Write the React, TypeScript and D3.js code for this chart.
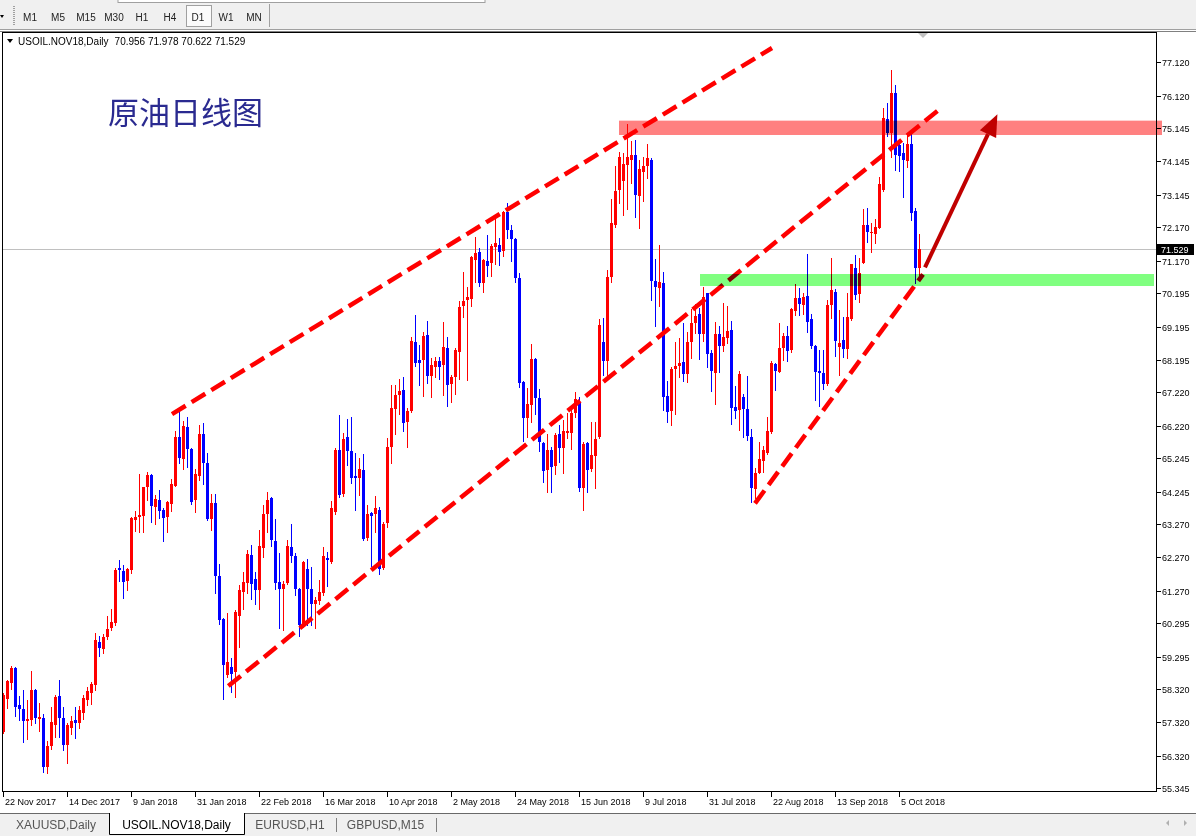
import { useEffect } from "react";
import * as d3 from "d3";

// USOIL.NOV18 daily bars, 22 Nov 2017 .. 12 Oct 2018 : [open, high, low, close]
const candles: [number, number, number, number][] = [
  [57.04, 58.19, 56.99, 58.14], [58.01, 58.58, 57.74, 58.56], [58.49, 59.01, 58.33, 58.96], [58.96, 58.99, 57.52, 57.79],
  [57.84, 58.11, 57.39, 57.71], [57.72, 58.29, 56.74, 57.37], [57.37, 57.99, 56.82, 57.42], [57.39, 58.87, 57.24, 58.29],
  [58.29, 58.33, 57.31, 57.44], [57.42, 57.89, 57.07, 57.47], [57.44, 57.57, 55.84, 55.97], [55.99, 56.77, 55.79, 56.61],
  [56.62, 57.78, 56.53, 57.33], [57.24, 58.13, 56.89, 58.09], [58.11, 58.59, 56.87, 57.46], [57.46, 57.78, 56.49, 56.64],
  [56.64, 57.31, 56.09, 57.24], [57.15, 57.51, 56.96, 57.36], [57.39, 57.78, 56.86, 57.31], [57.31, 57.81, 57.14, 57.69],
  [57.61, 58.13, 57.41, 58.06], [58.0, 58.37, 57.84, 58.26], [58.19, 58.53, 57.86, 58.48], [58.44, 59.99, 58.29, 59.79],
  [59.72, 59.91, 59.32, 59.56], [59.51, 59.96, 59.41, 59.88], [59.88, 60.51, 59.81, 60.11], [60.15, 60.71, 60.09, 60.33],
  [60.31, 61.94, 60.23, 61.89], [61.94, 62.19, 61.56, 61.89], [61.86, 62.04, 61.06, 61.54], [61.57, 61.94, 61.3, 61.91],
  [61.89, 63.48, 61.79, 63.46], [63.39, 63.66, 63.07, 63.49], [63.47, 64.77, 63.04, 63.54], [63.51, 64.39, 63.04, 64.37],
  [64.37, 64.84, 63.99, 64.74], [64.74, 64.76, 63.34, 63.82], [63.79, 64.14, 63.26, 64.02], [63.99, 64.29, 63.44, 63.67],
  [63.69, 63.74, 62.77, 63.46], [63.47, 63.95, 63.04, 63.93], [63.86, 64.61, 63.67, 64.47], [64.42, 66.06, 64.4, 65.88],
  [65.88, 66.62, 65.09, 65.24], [65.23, 66.36, 64.91, 66.21], [66.17, 66.47, 64.99, 65.51], [65.52, 65.54, 63.88, 63.94],
  [63.99, 64.91, 63.64, 64.77], [64.72, 66.24, 64.59, 65.97], [65.97, 66.29, 64.46, 65.09], [65.09, 65.39, 63.39, 63.42],
  [63.41, 64.16, 63.09, 63.89], [63.89, 64.16, 61.21, 61.72], [61.71, 62.07, 60.26, 60.39], [60.41, 60.44, 58.03, 59.04],
  [58.74, 60.59, 58.69, 59.13], [58.97, 59.24, 58.22, 58.77], [58.84, 60.69, 58.07, 60.64], [60.52, 61.44, 59.57, 61.29],
  [61.24, 61.84, 60.72, 61.52], [61.49, 62.49, 61.19, 62.37], [62.34, 62.64, 61.01, 61.47], [61.61, 61.84, 60.87, 61.29],
  [61.29, 63.09, 60.72, 62.61], [62.56, 63.84, 62.29, 63.56], [63.56, 64.22, 63.04, 63.99], [64.06, 64.09, 62.62, 62.79],
  [62.76, 63.42, 61.32, 61.51], [61.53, 62.39, 60.16, 61.32], [61.32, 61.57, 60.09, 61.47], [61.49, 62.79, 61.46, 62.62],
  [62.59, 63.27, 62.14, 62.32], [62.32, 62.39, 61.14, 61.32], [61.32, 61.34, 59.92, 60.24], [60.21, 62.16, 60.17, 62.14],
  [61.92, 62.22, 60.24, 61.32], [61.32, 61.99, 60.24, 60.87], [60.87, 61.09, 60.16, 60.99], [60.97, 61.59, 60.87, 61.24],
  [61.21, 62.57, 61.14, 62.31], [62.26, 62.42, 61.42, 62.19], [62.14, 63.96, 62.11, 63.76], [63.64, 65.56, 63.57, 65.49],
  [65.49, 66.54, 64.09, 64.14], [64.16, 66.01, 64.11, 65.82], [65.89, 66.41, 65.04, 65.47], [65.47, 66.49, 64.51, 64.64],
  [64.71, 65.41, 63.69, 64.64], [64.66, 65.24, 64.14, 64.92], [64.89, 65.37, 62.79, 62.82], [62.86, 63.84, 62.79, 63.56],
  [63.59, 63.64, 62.02, 63.52], [63.56, 64.11, 63.04, 63.76], [63.69, 63.79, 61.77, 61.91], [61.94, 63.34, 61.92, 63.27],
  [63.29, 65.86, 63.17, 65.59], [65.57, 67.44, 65.11, 66.74], [66.72, 67.44, 65.97, 67.14], [67.14, 67.61, 66.57, 67.26],
  [67.29, 67.67, 66.07, 66.29], [66.34, 66.74, 65.57, 66.67], [66.67, 68.89, 66.64, 68.76], [68.72, 69.54, 68.01, 68.11],
  [68.19, 68.64, 67.44, 68.09], [68.19, 69.04, 67.11, 68.92], [68.94, 69.36, 67.51, 67.72], [67.72, 68.24, 67.09, 68.04],
  [67.99, 68.29, 67.67, 68.16], [68.16, 68.29, 67.63, 67.97], [68.04, 69.34, 67.14, 68.59], [68.56, 68.89, 66.82, 67.44],
  [67.47, 67.74, 66.92, 67.67], [67.67, 68.56, 67.17, 68.49], [68.44, 69.96, 67.61, 69.79], [69.81, 70.84, 69.49, 69.96],
  [69.99, 70.39, 67.59, 70.09], [70.02, 71.31, 69.82, 71.29], [71.19, 71.89, 70.52, 71.41], [71.44, 71.54, 70.41, 70.51],
  [70.51, 71.21, 70.22, 71.19], [71.17, 71.94, 70.71, 71.02], [71.11, 71.67, 70.72, 71.62], [71.59, 72.49, 71.07, 71.71],
  [71.64, 71.86, 71.04, 71.44], [71.47, 72.66, 71.31, 72.64], [72.64, 72.91, 71.84, 72.09], [72.09, 72.24, 71.17, 71.81],
  [71.81, 71.84, 70.52, 70.64], [70.64, 70.81, 67.39, 67.49], [67.54, 67.57, 65.77, 66.46], [66.46, 67.34, 65.89, 66.86],
  [66.84, 68.67, 66.34, 68.22], [68.22, 68.24, 66.56, 67.06], [67.04, 67.32, 65.47, 65.74], [65.69, 65.72, 64.54, 64.87],
  [64.89, 65.97, 64.22, 65.49], [65.49, 65.59, 64.24, 64.99], [65.02, 66.01, 64.77, 65.94], [65.97, 66.24, 65.14, 65.56],
  [65.54, 66.39, 64.81, 66.07], [66.01, 66.59, 65.84, 66.07], [65.99, 66.72, 65.51, 66.61], [66.59, 67.22, 66.49, 67.02],
  [66.89, 67.09, 64.27, 64.34], [64.34, 65.74, 63.69, 65.67], [65.69, 65.72, 64.22, 64.89], [64.91, 66.34, 64.87, 65.34],
  [65.32, 66.34, 64.34, 65.82], [65.87, 69.41, 65.84, 69.24], [68.74, 69.44, 67.74, 68.17], [68.17, 70.89, 67.72, 70.67],
  [70.67, 73.01, 70.54, 72.29], [72.24, 74.01, 72.19, 73.26], [73.29, 74.44, 72.91, 74.29], [73.57, 74.39, 72.54, 74.06],
  [74.04, 75.27, 72.71, 74.27], [74.19, 74.77, 73.49, 74.34], [74.34, 74.79, 72.49, 73.14], [73.11, 74.19, 72.14, 73.91],
  [73.84, 74.29, 72.97, 74.01], [74.01, 74.67, 73.64, 74.24], [74.19, 74.24, 69.99, 70.57], [70.57, 71.21, 69.22, 70.37],
  [70.34, 71.64, 69.81, 70.52], [70.49, 70.84, 66.69, 67.07], [67.11, 67.57, 66.34, 66.64], [66.67, 67.97, 66.24, 67.92],
  [67.91, 68.74, 66.57, 68.01], [68.01, 68.84, 67.69, 68.09], [68.14, 69.29, 67.57, 67.77], [67.77, 69.04, 67.54, 68.72],
  [68.72, 69.71, 68.24, 69.29], [69.31, 69.87, 69.01, 69.51], [69.57, 69.74, 68.22, 68.97], [68.97, 70.39, 68.77, 70.07],
  [70.19, 70.21, 67.99, 68.36], [68.41, 68.49, 67.27, 67.86], [67.81, 69.34, 66.87, 68.97], [68.97, 69.21, 67.84, 68.62],
  [68.62, 69.91, 68.47, 68.87], [68.86, 69.81, 68.69, 69.07], [69.09, 69.37, 66.27, 66.74], [66.79, 67.41, 66.44, 66.67],
  [66.69, 67.86, 66.09, 67.77], [67.09, 67.17, 65.89, 66.72], [66.72, 67.71, 65.79, 65.92], [65.89, 66.11, 63.94, 64.34],
  [64.31, 64.94, 64.04, 64.81], [64.81, 65.74, 64.79, 65.22], [65.17, 65.61, 64.84, 65.49], [65.41, 66.49, 65.37, 66.06],
  [66.02, 68.16, 65.99, 68.11], [68.07, 68.11, 67.29, 67.87], [67.84, 69.31, 67.82, 68.56], [68.54, 69.01, 68.19, 68.92],
  [68.91, 69.21, 68.17, 68.47], [68.49, 69.74, 68.44, 69.72], [69.67, 70.47, 69.54, 70.06], [70.06, 70.36, 69.54, 69.87],
  [69.84, 70.21, 69.57, 70.09], [70.11, 71.37, 69.04, 69.34], [69.42, 69.56, 68.54, 68.61], [68.61, 68.64, 66.99, 67.84],
  [67.86, 68.49, 66.82, 67.79], [67.81, 68.49, 67.31, 67.47], [67.47, 69.99, 67.44, 69.84], [69.84, 71.26, 69.44, 70.29],
  [70.24, 70.31, 68.31, 68.77], [68.59, 69.69, 67.74, 68.71], [68.79, 69.49, 68.27, 68.51], [68.51, 70.19, 68.24, 69.49],
  [69.42, 71.07, 69.39, 71.06], [70.94, 71.34, 70.02, 70.14], [70.17, 71.26, 69.94, 70.79], [71.11, 72.71, 71.09, 72.24],
  [72.24, 72.74, 71.74, 72.04], [72.01, 72.31, 71.44, 72.04], [71.97, 72.41, 71.71, 72.17], [72.16, 73.69, 72.14, 73.47],
  [73.29, 75.74, 73.27, 75.44], [75.41, 75.91, 74.91, 75.01], [75.01, 76.89, 74.29, 76.21], [76.19, 76.44, 73.89, 74.34],
  [74.64, 74.66, 73.87, 74.31], [74.39, 74.69, 73.07, 74.19], [74.17, 75.01, 73.99, 74.67], [74.67, 75.01, 72.39, 72.61],
  [72.67, 72.74, 70.49, 70.94], [70.956, 71.978, 70.622, 71.529],
];

const priceTicks = [
  "77.120", "76.120", "75.145", "74.145", "73.145", "72.170", "71.170", "70.195", "69.195", "68.195", "67.220", "66.220",
  "65.245", "64.245", "63.270", "62.270", "61.270", "60.295", "59.295", "58.320", "57.320", "56.320", "55.345",
];
const dateTicks = [
  "22 Nov 2017", "14 Dec 2017", "9 Jan 2018", "31 Jan 2018", "22 Feb 2018", "16 Mar 2018", "10 Apr 2018", "2 May 2018",
  "24 May 2018", "15 Jun 2018", "9 Jul 2018", "31 Jul 2018", "22 Aug 2018", "13 Sep 2018", "5 Oct 2018",
];
const barsPerDateTick = 16;
const symbol = "USOIL.NOV18,Daily";
const title = "原油日线图";

// drawn objects as [bar index, price]
const channelLines: [number, number][][] = [
  [[42.25, 66.57], [192.25, 77.55]],
  [[56.33, 58.41], [234, 75.7]],
  [[188, 63.89], [230, 70.76]],
];
const arrowLine: [number, number][] = [[230.5, 70.97], [248.6, 75.56]];
const resistanceZone = { from: 154, to: 289.75, hi: 75.37, lo: 74.94 };
const supportZone = { from: 174.25, to: 287.75, hi: 70.77, lo: 70.41 };

const timeframes = ["M1", "M5", "M15", "M30", "H1", "H4", "D1", "W1", "MN"];
const tabs = ["XAUUSD,Daily", "USOIL.NOV18,Daily", "EURUSD,H1", "GBPUSD,M15"];

const W = 1196;
const H = 836;
const UI = "'Liberation Sans', Arial, sans-serif";

export default function App() {
  useEffect(() => {
    document.body.style.margin = "0";
    document.body.style.overflow = "hidden";
  }, []);

  const x = d3.scaleLinear().domain([0, candles.length - 1]).range([3, 3 + 4 * (candles.length - 1)]);
  const y = d3.scaleLinear().domain([55.345, 77.12]).range([788.3, 62.3]);
  const last = candles[candles.length - 1];
  const line = d3.line<[number, number]>().x((d) => x(d[0])).y((d) => y(d[1]));

  const [a0, a1] = arrowLine;
  const ax0 = x(a0[0]), ay0 = y(a0[1]), ax1 = x(a1[0]), ay1 = y(a1[1]);
  const ang = Math.atan2(ay1 - ay0, ax1 - ax0);
  const headLen = 22, headW = 9;
  const bx = ax1 - headLen * Math.cos(ang), by = ay1 - headLen * Math.sin(ang);
  const head = [
    [ax1, ay1],
    [bx + headW * Math.sin(ang), by - headW * Math.cos(ang)],
    [bx - headW * Math.sin(ang), by + headW * Math.cos(ang)],
  ];

  const tabPos = [[15, 97], [109, 244], [256, 324], [346, 425]];

  return (
    <svg width={W} height={H} style={{ position: "absolute", left: 0, top: 0, display: "block" }} fontFamily={UI}>
      <defs>
        <clipPath id="plot">
          <rect x={3} y={33} width={1153} height={758} />
        </clipPath>
      </defs>
      {/* toolbar */}
      <rect x={0} y={0} width={W} height={H} fill="#f0f0f0" />
      <rect x={118} y={-1} width={367} height={3.5} fill="#fff" stroke="#a0a0a0" />
      <path d="M0,15 L4,15 L2,18 Z" fill="#000" />
      {d3.range(6, 26, 2).map((v) => (
        <rect key={v} x={13} y={v} width={2} height={1} fill="#a0a0a0" />
      ))}
      <rect x={186.5} y={5.5} width={25} height={21} fill="#fbfbfb" stroke="#a0a0a0" />
      <line x1={269.5} x2={269.5} y1={4} y2={27} stroke="#a0a0a0" />
      {timeframes.map((t, k) => (
        <text key={t} x={30 + 28 * k} y={21} fontSize={10} textAnchor="middle" fill="#222">{t}</text>
      ))}
      <line x1={0} x2={W} y1={29.5} y2={29.5} stroke="#a0a0a0" />

      {/* chart window */}
      <rect x={0} y={30} width={W} height={783} fill="#fff" />
      <line x1={0} x2={W} y1={31.5} y2={31.5} stroke="#808080" />
      <line x1={2} x2={1157} y1={32.5} y2={32.5} stroke="#000" />
      <path d="M918,33 L928,33 L923,38 Z" fill="#c0c0c0" />

      <g clipPath="url(#plot)">
        <line x1={3} x2={1156} y1={Math.round(y(last[3])) + 0.5} y2={Math.round(y(last[3])) + 0.5} stroke="#c0c0c0" />
        <g shapeRendering="crispEdges">
          {candles.map(([o, h, l, c], i) => {
            const cx = Math.round(x(i));
            const col = c >= o ? "#ff0000" : "#0000ff";
            const top = Math.round(y(Math.max(o, c)));
            const bot = Math.round(y(Math.min(o, c)));
            return (
              <g key={i} fill={col}>
                <rect x={cx} y={Math.round(y(h))} width={1} height={Math.round(y(l)) - Math.round(y(h)) + 1} />
                <rect x={cx - 1} y={top} width={3} height={Math.max(1, bot - top)} />
              </g>
            );
          })}
        </g>
        {channelLines.map((pts, k) => (
          <path key={k} d={line(pts) || ""} stroke="#ff0000" strokeWidth={4.5} strokeDasharray="16 7" fill="none" />
        ))}
        <line x1={ax0} y1={ay0} x2={bx} y2={by} stroke="#c00000" strokeWidth={4} />
        <path d={"M" + head.map((p) => p.join(",")).join("L") + "Z"} fill="#c00000" />
      </g>
      {[resistanceZone, supportZone].map((z, k) => (
        <rect
          key={k}
          x={x(z.from)}
          width={x(z.to) - x(z.from)}
          y={y(z.hi)}
          height={y(z.lo) - y(z.hi)}
          fill={k === 0 ? "#ff8080" : "#80ff80"}
          style={{ mixBlendMode: "multiply" }}
        />
      ))}

      <text x={108} y={124} fontSize={31} fill="#2a2a90" fontFamily="'Noto Sans CJK SC', sans-serif">{title}</text>
      <path d="M7,39 L13,39 L10,43 Z" fill="#000" />
      <text x={18} y={45} fontSize={10} fill="#000">
        {symbol}
        <tspan dx={6}>{last.map((v) => v.toFixed(3)).join(" ")}</tspan>
      </text>

      {/* frame */}
      <g stroke="#000" shapeRendering="crispEdges">
        <line x1={2.5} x2={2.5} y1={32} y2={792} />
        <line x1={1156.5} x2={1156.5} y1={32} y2={792} />
        <line x1={2} x2={1157} y1={791.5} y2={791.5} />
      </g>

      {/* price axis */}
      {priceTicks.map((t) => {
        const py = Math.round(y(+t)) + 0.5;
        return (
          <g key={t}>
            <line x1={1157} x2={1161} y1={py} y2={py} stroke="#000" />
            <text x={1162} y={py + 3.5} fontSize={9} fill="#000">{t}</text>
          </g>
        );
      })}
      <rect x={1157} y={Math.round(y(last[3])) - 5} width={37} height={11} fill="#000" />
      <text x={1161} y={Math.round(y(last[3])) + 4} fontSize={9} fill="#fff">{last[3].toFixed(3)}</text>

      {/* time axis */}
      {dateTicks.map((t, k) => {
        const tx = Math.round(x(k * barsPerDateTick)) + 0.5;
        return (
          <g key={t}>
            <line x1={tx} x2={tx} y1={792} y2={797} stroke="#000" />
            <text x={tx + 1.5} y={804.5} fontSize={9} fill="#000">{t}</text>
          </g>
        );
      })}

      {/* tabs */}
      <line x1={0} x2={W} y1={813.5} y2={813.5} stroke="#696969" />
      <path d={`M${tabPos[1][0] + 0.5},813 V834.5 H${tabPos[1][1] + 0.5} V813`} fill="#fff" stroke="#000" />
      {tabs.map((t, k) => (
        <text key={t} x={(tabPos[k][0] + tabPos[k][1]) / 2} y={829} fontSize={12} textAnchor="middle" fill={k === 1 ? "#000" : "#555"}>{t}</text>
      ))}
      <line x1={336.5} x2={336.5} y1={818} y2={832} stroke="#808080" />
      <line x1={436.5} x2={436.5} y1={818} y2={832} stroke="#808080" />
      <path d="M1169,820 L1166,823 L1169,826 Z" fill="#b0b0b0" />
      <path d="M1184,820 L1187,823 L1184,826 Z" fill="#b0b0b0" />
    </svg>
  );
}
